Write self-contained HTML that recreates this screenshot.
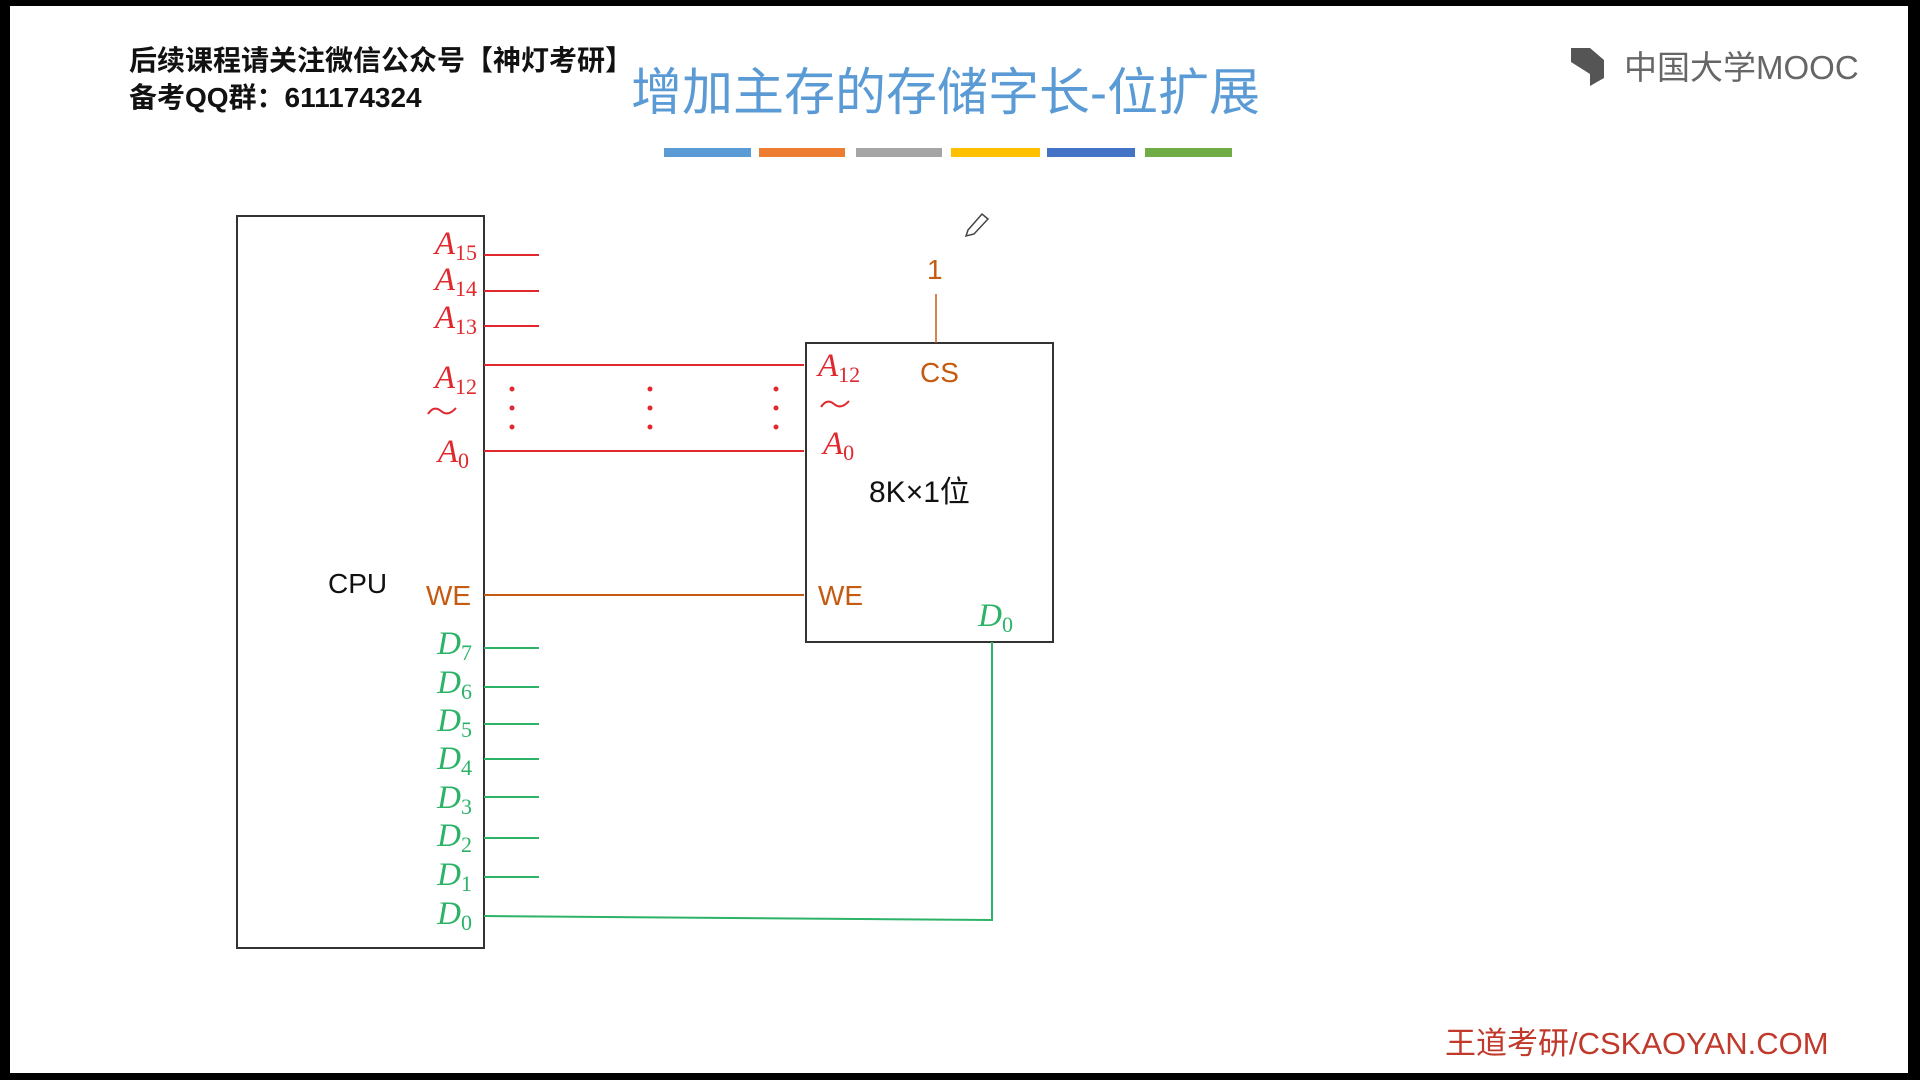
<!DOCTYPE html>
<html><head><meta charset="utf-8"><style>
html,body{margin:0;padding:0;background:#000;}
#s{position:relative;width:1920px;height:1080px;overflow:hidden;background:#000;}
svg{position:absolute;left:0;top:0;}
.cn{font-family:"Liberation Sans","Noto Sans CJK SC",sans-serif;}
.m{font-family:"Liberation Serif","DejaVu Serif",serif;font-style:italic;}
</style></head><body><div id="s">
<svg width="1920" height="1080" viewBox="0 0 1920 1080">
<rect x="10" y="6" width="1898" height="1067" fill="#fff"/>
<text x="129" y="70" class="cn" font-size="28" font-weight="bold" fill="#111">后续课程请关注微信公众号【神灯考研】</text>
<text x="129" y="107" class="cn" font-size="28" font-weight="bold" fill="#111">备考QQ群：611174324</text>
<text x="631" y="110" class="cn" font-size="51" fill="#5b9bd5">增加主存的存储字长-位扩展</text>
<path d="M1571 48 L1590 48 L1604 60 L1604 78 L1590 86 L1590 74 L1571 62 Z" fill="#555"/>
<text x="1624" y="79" class="cn" font-size="33" fill="#666">中国大学MOOC</text>
<rect x="664" y="148" width="87" height="9" fill="#5b9bd5"/>
<rect x="759" y="148" width="86" height="9" fill="#ed7d31"/>
<rect x="856" y="148" width="86" height="9" fill="#a5a5a5"/>
<rect x="951" y="148" width="89" height="9" fill="#ffc000"/>
<rect x="1047" y="148" width="88" height="9" fill="#4472c4"/>
<rect x="1145" y="148" width="87" height="9" fill="#70ad47"/>
<rect x="237" y="216" width="247" height="732" fill="none" stroke="#333" stroke-width="2"/>
<rect x="806" y="343" width="247" height="299" fill="none" stroke="#333" stroke-width="2"/>
<g stroke="#e0282e" stroke-width="2">
<line x1="484" y1="255" x2="539" y2="255"/><line x1="484" y1="291" x2="539" y2="291"/><line x1="484" y1="326" x2="539" y2="326"/>
<line x1="484" y1="365" x2="804" y2="365"/><line x1="484" y1="451" x2="804" y2="451"/>
</g>
<g fill="#e0282e"><circle cx="512" cy="389" r="2.5"/><circle cx="512" cy="408" r="2.5"/><circle cx="512" cy="427" r="2.5"/>
<circle cx="650" cy="389" r="2.5"/><circle cx="650" cy="408" r="2.5"/><circle cx="650" cy="427" r="2.5"/>
<circle cx="776" cy="389" r="2.5"/><circle cx="776" cy="408" r="2.5"/><circle cx="776" cy="427" r="2.5"/></g>
<line x1="484" y1="595" x2="804" y2="595" stroke="#c55a11" stroke-width="2"/>
<line x1="936" y1="294" x2="936" y2="343" stroke="#c55a11" stroke-width="1.5"/>
<g stroke="#2db368" stroke-width="2" fill="none">
<line x1="484" y1="648" x2="539" y2="648"/><line x1="484" y1="687" x2="539" y2="687"/><line x1="484" y1="724" x2="539" y2="724"/><line x1="484" y1="759" x2="539" y2="759"/><line x1="484" y1="797" x2="539" y2="797"/><line x1="484" y1="838" x2="539" y2="838"/><line x1="484" y1="877" x2="539" y2="877"/>
<polyline points="484,916 992,920 992,642"/>
</g>
<g class="m" fill="#e0282e" font-size="33" text-anchor="end">
<text x="477" y="254">A<tspan font-size="22" dy="6" font-style="normal">15</tspan></text>
<text x="477" y="290">A<tspan font-size="22" dy="6" font-style="normal">14</tspan></text>
<text x="477" y="328">A<tspan font-size="22" dy="6" font-style="normal">13</tspan></text>
<text x="477" y="388">A<tspan font-size="22" dy="6" font-style="normal">12</tspan></text>
<text x="469" y="462">A<tspan font-size="22" dy="6" font-style="normal">0</tspan></text>
</g>
<path d="M428 414 Q434 405 441 411 Q448 417 456 408" fill="none" stroke="#e0282e" stroke-width="2"/>
<g class="m" fill="#e0282e" font-size="33">
<text x="818" y="376">A<tspan font-size="22" dy="6" font-style="normal">12</tspan></text>
<text x="823" y="454">A<tspan font-size="22" dy="6" font-style="normal">0</tspan></text>
</g>
<path d="M821 407 Q827 398 834 404 Q841 410 849 401" fill="none" stroke="#e0282e" stroke-width="2"/>
<g class="cn" fill="#c55a11" font-size="28">
<text x="426" y="605">WE</text><text x="818" y="605">WE</text><text x="920" y="382">CS</text><text x="927" y="279">1</text>
</g>
<g class="m" fill="#2db368" font-size="33" text-anchor="end">
<text x="472" y="654">D<tspan font-size="22" dy="6" font-style="normal">7</tspan></text>
<text x="472" y="693">D<tspan font-size="22" dy="6" font-style="normal">6</tspan></text>
<text x="472" y="731">D<tspan font-size="22" dy="6" font-style="normal">5</tspan></text>
<text x="472" y="769">D<tspan font-size="22" dy="6" font-style="normal">4</tspan></text>
<text x="472" y="808">D<tspan font-size="22" dy="6" font-style="normal">3</tspan></text>
<text x="472" y="846">D<tspan font-size="22" dy="6" font-style="normal">2</tspan></text>
<text x="472" y="885">D<tspan font-size="22" dy="6" font-style="normal">1</tspan></text>
<text x="472" y="924">D<tspan font-size="22" dy="6" font-style="normal">0</tspan></text>
<text x="1013" y="626">D<tspan font-size="22" dy="6" font-style="normal">0</tspan></text>
</g>
<text x="328" y="593" class="cn" font-size="28" fill="#111">CPU</text>
<text x="869" y="502" class="cn" font-size="30" fill="#111">8K×1位</text>
<path d="M968 230 L982 214 L988 219 L974 234 L966 236 Z" fill="none" stroke="#444" stroke-width="1.5"/>
<text x="1445" y="1054" class="cn" font-size="31" fill="#c0392b">王道考研/CSKAOYAN.COM</text>
</svg>
</div></body></html>
